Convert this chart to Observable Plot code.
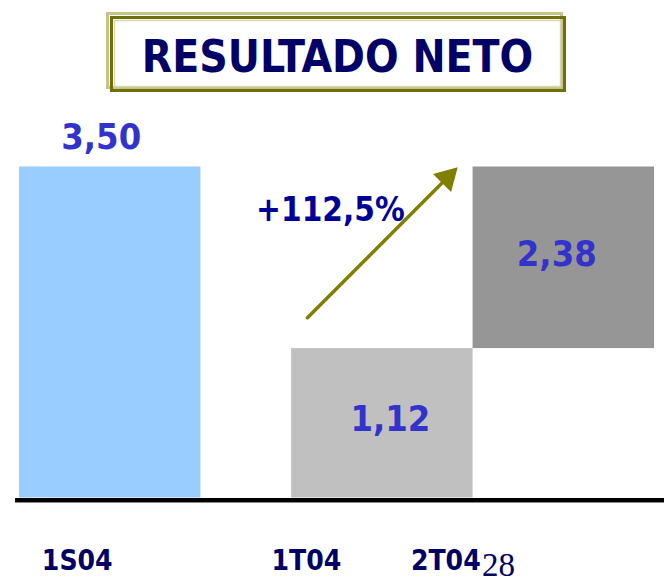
<!DOCTYPE html>
<html><head><meta charset="utf-8">
<script src="https://cdn.jsdelivr.net/npm/d3@7"></script>
<script src="https://cdn.jsdelivr.net/npm/@observablehq/plot@0.6"></script>
<style>html,body{margin:0;padding:0;background:#fff;} #chart{width:664px;height:584px;position:relative;overflow:hidden}</style>
</head><body><div id="chart"></div>
<script>
const title = "RESULTADO NETO";
const categories = ["1S04", "1T04", "2T04"];
const valueLabels = ["3,50", "1,12", "2,38"];
// bar extents as drawn in the picture (value-axis units)
const barBase = [0, 0, 1.58];
const barTop = [3.50, 1.58, 3.50];
const barColors = ["#99CCFF", "#C0C0C0", "#969696"];
const changeLabel = "+112,5%";
const pageNumber = "28";

// layout: each bar takes two slots, a one-slot gap after the first
const slotStart = categories.map((c, i) => (i === 0 ? 0 : 2 * i + 1));
const rows = categories.map((c, i) => ({
  cat: c, label: valueLabels[i],
  x1: slotStart[i], x2: slotStart[i] + 2,
  y1: barBase[i], y2: barTop[i], fill: barColors[i]
}));

const boldFont = "'DejaVu Sans Condensed', 'DejaVu Sans', sans-serif";
const narrowFont = "'Liberation Sans Narrow', 'DejaVu Sans Condensed', sans-serif";
const valueNudge = [[-9, -30], [8, -4], [-7, -3]];
const catNudge = [-33, -76, -118];
const olive = "#808000";

const marks = [
  Plot.rect(rows, {x1: "x1", x2: "x2", y1: "y1", y2: "y2", fill: "fill"}),
  Plot.ruleY([0], {stroke: "#000", strokeWidth: 4, dy: 2}),
  Plot.ruleY([0], {stroke: "#8a8a8a", strokeWidth: 1, dy: 4.5})
];
rows.forEach((r, i) => {
  marks.push(Plot.text([r], {
    x: d => (d.x1 + d.x2) / 2,
    y: d => (i === 0 ? d.y2 : (d.y1 + d.y2) / 2),
    text: "label", dx: valueNudge[i][0], dy: valueNudge[i][1],
    fill: "#3333CC", fontSize: 36, fontWeight: "bold", fontFamily: boldFont
  }));
  marks.push(Plot.text([r], {
    x: d => (d.x1 + d.x2) / 2, y: 0, text: "cat",
    dx: catNudge[i], dy: 63,
    fill: "#000066", fontSize: 28, fontWeight: "bold", fontFamily: narrowFont
  }));
});
// arrow from the 1T04 bar towards the top of 2T04
const arrowRow = [{x1: slotStart[1], y1: barTop[1], x2: slotStart[2], y2: barTop[2]}];
marks.push(Plot.arrow(arrowRow, {
  x1: "x1", y1: "y1", x2: "x2", y2: "y2", dx: -7.5, dy: -7.5,
  insetStart: 33, insetEnd: 22, headLength: 0, stroke: olive, strokeWidth: 3.5
}));
marks.push(Plot.dot(arrowRow, {
  x: "x2", y: "y2", dx: -25.8, dy: 10.7, symbol: "triangle", r: 9.5,
  fill: olive, stroke: "none", rotate: 45
}));
marks.push(Plot.text(arrowRow, {
  x: d => (d.x1 + d.x2) / 2, y: d => (d.y1 + d.y2) / 2, dx: -52, dy: -47,
  text: () => changeLabel, fill: "#000099", fontSize: 33, fontWeight: "bold", fontFamily: boldFont
}));

const svg = Plot.plot({
  width: 664, height: 584,
  marginLeft: 15, marginRight: 0, marginTop: 0, marginBottom: 0,
  x: {domain: [0, 7], range: [19, 654], axis: null},
  y: {domain: [0, 3.5], range: [497.5, 166.5], axis: null},
  color: {type: "identity"},
  style: {background: "white", overflow: "visible"},
  marks
});

// title box and page number
const s = d3.select(svg);
const g = s.append("g");
g.append("rect").attr("x", 107.5).attr("y", 13.5).attr("width", 454).attr("height", 74)
  .attr("fill", "none").attr("stroke", "#c4c488").attr("stroke-width", 3);
g.append("rect").attr("x", 111.5).attr("y", 17.5).attr("width", 453).attr("height", 73)
  .attr("fill", "none").attr("stroke", "#70700a").attr("stroke-width", 3);
g.append("rect").attr("x", 114.5).attr("y", 20.5).attr("width", 446).attr("height", 66)
  .attr("fill", "#fff").attr("stroke", "#d8d8b0").attr("stroke-width", 1.5);
g.append("text").attr("x", 337.5).attr("y", 71.5).attr("text-anchor", "middle")
  .attr("font-family", boldFont).attr("font-weight", "bold").attr("font-size", 44)
  .attr("fill", "#000066").text(title);
s.append("text").attr("x", 482).attr("y", 576).attr("text-anchor", "start")
  .attr("font-family", "'Liberation Serif', 'DejaVu Serif', serif").attr("font-size", 33)
  .attr("fill", "#000066").text(pageNumber);

document.getElementById("chart").append(svg);
</script></body></html>
